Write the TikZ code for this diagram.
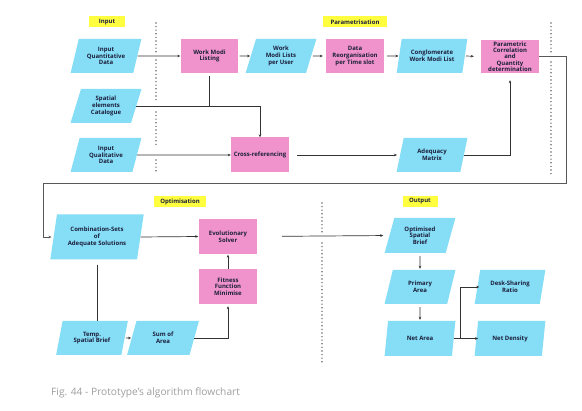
\documentclass[tikz,border=0pt]{standalone}
\usepackage{fontspec}
\setmainfont{Open Sans}
\usetikzlibrary{shapes.geometric,arrows.meta}
\definecolor{cyanfill}{HTML}{86DDF6}
\definecolor{pinkfill}{HTML}{F093CC}
\definecolor{yellowfill}{HTML}{FFFF40}
\definecolor{txt}{HTML}{1B1F3B}
\definecolor{lin}{HTML}{333333}
\definecolor{dotc}{HTML}{6A6A6A}
\tikzset{
  base/.style={font=\fontsize{6}{6.7}\selectfont\bfseries, text=txt, align=center, inner sep=0pt},
  para/.style={base, trapezium, trapezium stretches=true, trapezium left angle=72, trapezium right angle=108, fill=cyanfill, minimum width=71pt, minimum height=34pt},
  proc/.style={base, rectangle, fill=pinkfill, minimum width=58pt, minimum height=34pt},
  phase/.style={base, rectangle, fill=yellowfill, minimum height=11pt},
  arr/.style={draw=lin, line width=0.7pt, -{Stealth[length=3pt,width=2.6pt]}},
  ln/.style={draw=lin, line width=0.7pt},
  fb/.style={draw=black!65, line width=0.9pt, -{Stealth[length=3pt,width=2.6pt]}},
  dots/.style={draw=dotc, line width=1.6pt, line cap=round, dash pattern=on 0pt off 3.6pt}
}
\begin{document}
\begin{tikzpicture}[x=1pt,y=-1pt]
\useasboundingbox (0,0) rectangle (582,411);
% phase labels
\node[phase, minimum width=36pt] (lin) at (107,22) {Input};
\node[phase, minimum width=64pt] (lpar) at (355,22) {Parametrisation};
\node[phase, minimum width=52pt] (lopt) at (180,201.5) {Optimisation};
\node[phase, minimum width=35pt] (lout) at (420,201.5) {Output};
% row 1
\node[para] (iqd) at (106,56) {Input\\Quantitative\\Data};
\node[para] (sec) at (106,106) {Spatial\\elements\\Catalogue};
\node[para] (iql) at (106,155) {Input\\Qualitative\\Data};
\node[proc, minimum width=57pt] (wml) at (209.5,56) {Work Modi\\Listing};
\node[para] (wmu) at (281,56) {Work\\Modi Lists\\per User};
\node[proc] (dro) at (355,56) {Data\\Reorganisation\\per Time slot};
\node[para] (cwm) at (432,56) {Conglomerate\\Work Modi List};
\node[proc, minimum height=33pt, font=\fontsize{6}{6.3}\selectfont\bfseries] (pcq) at (510,56.5) {Parametric\\Correlation\\and\\Quantity\\determination};
\node[proc, minimum height=35pt] (xref) at (260,155) {Cross-referencing};
\node[para] (adm) at (432,155) {Adequacy\\Matrix};
% optimisation
\node[para, minimum width=94pt, minimum height=45pt, trapezium left angle=76, trapezium right angle=104] (cs) at (97,237) {Combination-Sets\\of\\Adequate Solutions};
\node[proc, minimum height=35pt] (evo) at (228,236.5) {Evolutionary\\Solver};
\node[proc, minimum height=35pt] (fit) at (228,286.5) {Fitness\\Function\\Minimise};
\node[para, minimum width=72pt] (tsb) at (92,338) {Temp.\\Spatial Brief};
\node[para, minimum width=72pt] (soa) at (163,338) {Sum of\\Area};
% output
\node[para, minimum height=35pt] (osb) at (420,235.5) {Optimised\\Spatial\\Brief};
\node[para] (pa) at (420,287) {Primary\\Area};
\node[para, minimum height=35pt] (na) at (420,338.5) {Net Area};
\node[para] (dsr) at (510,287) {Desk-Sharing\\Ratio};
\node[para, minimum height=35pt] (nd) at (510,338.5) {Net Density};
% caption
\node[font=\fontsize{10.2}{12}\selectfont, text=black!38, anchor=west, inner sep=0pt] (cap) at (51,393) {Fig. 44 - Prototype's algorithm flowchart};
% dotted separators
\draw[dots] (156,23) -- (156,53);
\draw[dots] (156,60) -- (156,101);
\draw[dots] (156,112) -- (156,147);
\draw[dots] (156,160) -- (156,172);
\draw[dots] (551,23) -- (551,53);
\draw[dots] (551,62) -- (551,176);
\draw[dots] (322,203) -- (322,232);
\draw[dots] (322,243) -- (322,365);
% connectors row 1
\draw[arr, shorten >=0.5pt] (iqd.east) -- (wml.west);
\draw[arr, shorten <=1.5pt, shorten >=0.5pt] (wml.east) -- (wmu.west);
\draw[arr, shorten <=1.5pt, shorten >=3pt] (wmu.east) -- (dro.west);
\draw[arr, shorten <=3pt, shorten >=0.5pt] (dro.east) -- (cwm.west);
\draw[arr, shorten <=1pt, shorten >=7pt] (cwm.east) -- (pcq.west);
\coordinate (jn) at (wml.south |- sec.east);
\draw[ln, shorten <=3pt] (wml.south) -- (jn);
\draw[arr] (sec.east) -| (xref.north);
\draw[arr] (iql.east) -- (xref.west);
\draw[arr, shorten <=8pt, shorten >=3pt] (xref.east) -- (adm.west);
\draw[arr, shorten >=7pt] (adm.east) -| (pcq.south);
% feedback
\coordinate (fbr) at (566,183);
\coordinate (fbl) at (43,183);
\draw[fb, shorten >=2pt] (pcq.east) -| (fbr) -- (fbl) |- (cs.west);
% optimisation connectors
\draw[arr, shorten >=0.5pt] (cs.east) -- (evo.west);
\draw[arr, shorten >=0.5pt] (fit.north) -- (evo.south);
\draw[ln, shorten <=5pt] (cs.south) -- (cs.south |- tsb.north);
\draw[arr, shorten <=1pt, shorten >=0.5pt] (tsb.east) -- (soa.west);
\draw[arr, shorten >=2pt] (soa.east) -| (fit.south);
\draw[arr, shorten <=25pt, shorten >=6pt] (evo.east) -- (osb.west);
% output connectors
\draw[arr, shorten <=3pt, shorten >=1pt] (osb.south) -- (pa.north);
\draw[arr, shorten <=3pt, shorten >=1pt] (pa.south) -- (na.north);
\coordinate (nj) at (460,338.5);
\draw[ln] (na.east) -- (nj);
\draw[arr, shorten >=-2pt] (nj) |- (dsr.west);
\draw[arr, shorten >=-2pt] (nj) -- (nd.west);
\end{tikzpicture}
\end{document}
